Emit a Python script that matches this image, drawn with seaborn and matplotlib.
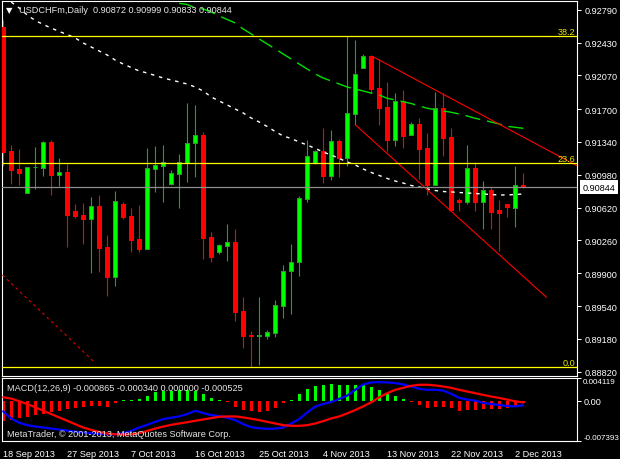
import numpy as np
import pandas as pd
import matplotlib
matplotlib.use("Agg")
import matplotlib.pyplot as plt
import seaborn as sns
from matplotlib import font_manager
from matplotlib.transforms import blended_transform_factory

# USDCHFm daily candles, 18 Sep 2013 .. 3 Dec 2013 (broker feed with Sunday bars)
opens = [0.92597, 0.91240, 0.91043, 0.90783, 0.91062, 0.91057, 0.91339, 0.90980, 0.91010, 0.90582,
         0.90538, 0.90498, 0.90637, 0.90188, 0.89862, 0.90659, 0.90528, 0.90275, 0.90169, 0.91046,
         0.91079, 0.90878, 0.90991, 0.91112, 0.91331, 0.91416, 0.90297, 0.90136, 0.90202, 0.90242,
         0.89486, 0.89222, 0.89215, 0.89208, 0.89248, 0.89544, 0.89921, 0.90020, 0.90717, 0.91105,
         0.91237, 0.90969, 0.91350, 0.91167, 0.91649, 0.92154, 0.92282, 0.91931, 0.91723, 0.91364,
         0.91789, 0.91419, 0.91533, 0.91273, 0.90871, 0.91709, 0.91394, 0.90703, 0.90676, 0.91054,
         0.90676, 0.90813, 0.90593, 0.90659, 0.90619, 0.90872]
highs = [0.92680, 0.91306, 0.91262, 0.91065, 0.91284, 0.91350, 0.91361, 0.91164, 0.91101, 0.90659,
         0.90670, 0.90739, 0.90758, 0.90322, 0.90802, 0.90684, 0.90615, 0.90648, 0.91273, 0.91295,
         0.91306, 0.91032, 0.91207, 0.91767, 0.91745, 0.91445, 0.90352, 0.90220, 0.90440, 0.90385,
         0.89639, 0.89266, 0.89639, 0.89277, 0.89606, 0.89990, 0.90220, 0.90750, 0.91361, 0.91255,
         0.91493, 0.91471, 0.91372, 0.92498, 0.92458, 0.92301, 0.92290, 0.92249, 0.91997, 0.91876,
         0.91909, 0.91555, 0.91602, 0.91438, 0.91887, 0.91876, 0.91493, 0.90722, 0.91306, 0.91116,
         0.90911, 0.90846, 0.90703, 0.90659, 0.91076, 0.90999]
lows = [0.91073, 0.90878, 0.90871, 0.90780, 0.90824, 0.90966, 0.90758, 0.90860, 0.90191, 0.90509,
        0.90220, 0.89906, 0.89913, 0.89653, 0.89763, 0.90498, 0.90136, 0.90136, 0.90166, 0.90794,
        0.90684, 0.90867, 0.90619, 0.90904, 0.90958, 0.90059, 0.90026, 0.90114, 0.90037, 0.89379,
        0.89083, 0.88868, 0.88893, 0.89179, 0.89204, 0.89412, 0.89453, 0.89873, 0.90684, 0.91098,
        0.90893, 0.90926, 0.90955, 0.91079, 0.91525, 0.92150, 0.91876, 0.91525, 0.91240, 0.91298,
        0.91276, 0.91416, 0.90933, 0.90761, 0.90867, 0.91189, 0.90588, 0.90586, 0.90662, 0.90586,
        0.90385, 0.90385, 0.90147, 0.90520, 0.90410, 0.90833]
closes = [0.91233, 0.91032, 0.91002, 0.91062, 0.91068, 0.91336, 0.90980, 0.91007, 0.90542, 0.90528,
          0.90498, 0.90637, 0.90177, 0.89862, 0.90689, 0.90520, 0.90268, 0.90166, 0.91054, 0.91084,
          0.91116, 0.90999, 0.91120, 0.91328, 0.91416, 0.90290, 0.90081, 0.90209, 0.90242, 0.89478,
          0.89215, 0.89215, 0.89219, 0.89255, 0.89551, 0.89921, 0.90020, 0.90722, 0.91186, 0.91237,
          0.90969, 0.91347, 0.91164, 0.91654, 0.92082, 0.92279, 0.91924, 0.91712, 0.91364, 0.91792,
          0.91408, 0.91533, 0.91262, 0.90871, 0.91709, 0.91383, 0.90593, 0.90681, 0.91054, 0.90676,
          0.90809, 0.90575, 0.90564, 0.90621, 0.90867, 0.90844]

# moving averages (white dotted starts at bar 1, green dashed at bar 22)
ma_white = [0.92874, 0.92809, 0.92732, 0.92672, 0.92628, 0.92589, 0.92551, 0.92518, 0.92480, 0.92425,
            0.92381, 0.92337, 0.92293, 0.92238, 0.92194, 0.92156, 0.92118, 0.92096, 0.92068, 0.92041,
            0.92019, 0.91997, 0.91975, 0.91942, 0.91898, 0.91833, 0.91789, 0.91745, 0.91701, 0.91657,
            0.91602, 0.91558, 0.91509, 0.91454, 0.91405, 0.91377, 0.91339, 0.91306, 0.91268, 0.91229,
            0.91196, 0.91158, 0.91120, 0.91087, 0.91043, 0.91005, 0.90972, 0.90939, 0.90911, 0.90889,
            0.90862, 0.90846, 0.90824, 0.90807, 0.90796, 0.90791, 0.90785, 0.90780, 0.90774, 0.90769,
            0.90763, 0.90758, 0.90758, 0.90763, 0.90769]
white_start = 1
ma_green = [0.92860, 0.92847, 0.92809, 0.92798, 0.92765, 0.92721, 0.92683, 0.92644, 0.92578, 0.92524,
            0.92469, 0.92414, 0.92359, 0.92304, 0.92249, 0.92194, 0.92140, 0.92085, 0.92041, 0.92008,
            0.91975, 0.91942, 0.91920, 0.91898, 0.91876, 0.91854, 0.91818, 0.91800, 0.91781, 0.91761,
            0.91734, 0.91709, 0.91693, 0.91679, 0.91665, 0.91646, 0.91624, 0.91599, 0.91580, 0.91558,
            0.91536, 0.91511, 0.91500, 0.91489]
green_start = 22

# drawn objects: (bar, price) anchor points
chan_upper_x, chan_upper_y = [46.3, 71.7], [0.92271, 0.91079]
chan_lower_x, chan_lower_y = [44.0, 67.9], [0.91529, 0.89636]
old_line_x, old_line_y = [-0.1, 11.55], [0.89880, 0.88912]
fib_levels = [0.92502, 0.91110, 0.88868]
fib_labels = ["38.2", "23.6", "0.0"]
bid = 0.90844

price_ticks = [0.92790, 0.92430, 0.92070, 0.91700, 0.91340, 0.90980,
               0.90620, 0.90260, 0.89900, 0.89540, 0.89180, 0.88820]

# MACD(12,26,9)
macd_main = [-0.00198, -0.00327, -0.00407, -0.00450, -0.00475, -0.00493, -0.00512, -0.00530, -0.00549, -0.00567,
             -0.00585, -0.00598, -0.00610, -0.00616, -0.00616, -0.00598, -0.00555, -0.00493, -0.00444, -0.00389,
             -0.00339, -0.00315, -0.00290, -0.00247, -0.00186, -0.00229, -0.00266, -0.00284, -0.00315, -0.00358,
             -0.00432, -0.00487, -0.00506, -0.00518, -0.00512, -0.00493, -0.00419, -0.00339, -0.00216, -0.00112,
             -0.00063, -0.00026, 0.00030, 0.00091, 0.00196, 0.00294, 0.00331, 0.00337, 0.00331, 0.00319,
             0.00294, 0.00257, 0.00214, 0.00196, 0.00196, 0.00183, 0.00122, 0.00048, 0.00017, -0.00001,
             -0.00044, -0.00063, -0.00081, -0.00100, -0.00106, -0.000865]
macd_signal = [0.00060, 0.00036, -0.00014, -0.00063, -0.00124, -0.00186, -0.00247, -0.00309, -0.00370, -0.00432,
               -0.00493, -0.00536, -0.00573, -0.00604, -0.00616, -0.00622, -0.00616, -0.00598, -0.00555, -0.00512,
               -0.00475, -0.00444, -0.00419, -0.00395, -0.00370, -0.00346, -0.00321, -0.00296, -0.00290, -0.00290,
               -0.00309, -0.00333, -0.00358, -0.00389, -0.00419, -0.00450, -0.00462, -0.00462, -0.00450, -0.00419,
               -0.00376, -0.00327, -0.00290, -0.00235, -0.00173, -0.00106, -0.00032, 0.00060, 0.00134, 0.00196,
               0.00232, 0.00269, 0.00288, 0.00288, 0.00276, 0.00257, 0.00232, 0.00196, 0.00165, 0.00134,
               0.00103, 0.00073, 0.00048, 0.00017, -0.00014, -0.000340]
macd_hist = [-0.00370, -0.00352, -0.00327, -0.00296, -0.00266, -0.00241, -0.00216, -0.00185, -0.00161, -0.00143,
             -0.00124, -0.00106, -0.00093, -0.00112, -0.00050, 0.00017, 0.00017, 0.00020, 0.00085, 0.00153,
             0.00171, 0.00183, 0.00196, 0.00196, 0.00171, 0.00122, 0.00042, 0.00017, -0.00020, -0.00124,
             -0.00173, -0.00198, -0.00204, -0.00186, -0.00137, -0.00044, 0.00017, 0.00122, 0.00214, 0.00263,
             0.00288, 0.00306, 0.00288, 0.00276, 0.00288, 0.00288, 0.00245, 0.00196, 0.00122, 0.00079,
             0.00036, -0.00020, -0.00075, -0.00130, -0.00124, -0.00124, -0.00137, -0.00186, -0.00167, -0.00167,
             -0.00161, -0.00161, -0.00149, -0.00143, -0.00112, -0.000525]
macd_range = [-0.007393, 0.004119]

W, H = 620, 460
sns.set_style("dark", rc={"axes.facecolor": "black", "figure.facecolor": "black",
                          "axes.edgecolor": "white", "text.color": "white",
                          "xtick.color": "white", "ytick.color": "white"})

# MT4 uses a narrow 8px UI font; pick a narrow family if present, else shrink Liberation Sans
installed = {f.name for f in font_manager.fontManager.ttflist}
if "Liberation Sans Narrow" in installed:
    FONT, FS = "Liberation Sans Narrow", 8
else:
    FONT, FS = "Liberation Sans", 6.6
plt.rcParams["font.family"] = [FONT, "DejaVu Sans"]
plt.rcParams["font.size"] = FS

fig = plt.figure(figsize=(W / 100, H / 100), dpi=100)
ax = fig.add_axes([2 / W, 1 - 377 / H, 575 / W, 375 / H])
axm = fig.add_axes([2 / W, 1 - 442 / H, 575 / W, 63 / H])

df = pd.DataFrame({"open": opens, "high": highs, "low": lows, "close": closes})
df["bar"] = np.arange(len(df))
bull = df["close"] >= df["open"]
wick_col = np.where(bull, "#2f9a2f", "#ff0000")
body_col = np.where(bull, "#00ff00", "#ff0000")

# candles
ax.vlines(df["bar"], df["low"], df["high"], colors=wick_col, lw=0.8, zorder=2)
body_lo = df[["open", "close"]].min(axis=1)
body_h = (df["close"] - df["open"]).abs()
ax.bar(df["bar"], body_h, bottom=body_lo, width=0.55, color=body_col,
       edgecolor=wick_col, linewidth=0.75, zorder=3)

# indicators
sns.lineplot(x=df["bar"][white_start:], y=ma_white, ax=ax, color="white", lw=1,
             linestyle=(0, (2.5, 3.5)), zorder=4)
sns.lineplot(x=df["bar"][green_start:], y=ma_green, ax=ax, color="#00e000", lw=1,
             linestyle=(0, (11, 5)), zorder=4)

# objects
ax.plot(chan_upper_x, chan_upper_y, color="#ff0000", lw=0.8, zorder=4)
ax.plot(chan_lower_x, chan_lower_y, color="#ff0000", lw=0.8, zorder=4)
ax.plot(old_line_x, old_line_y, color="#e00000", lw=0.8, linestyle=(0, (2.5, 3)), zorder=4)
for lvl, lab in zip(fib_levels, fib_labels):
    ax.axhline(lvl, color="#ffff00", lw=0.9, zorder=5)
    ax.text(71.5, lvl, lab, ha="right", va="bottom", color="#e8e800", fontsize=FS, zorder=6)
ax.axhline(bid, color="#8c8c8c", lw=0.9, zorder=5)

ax.set_xlim(-0.15, 71.72)
ax.set_ylim(0.887727, 0.928854)
ax.yaxis.tick_right()
ax.set_yticks(price_ticks)
ax.set_yticklabels([f"{p:.5f}" for p in price_ticks])
ax.tick_params(axis="y", colors="white", length=3, width=0.75, pad=2.5, labelsize=FS)
ax.tick_params(axis="x", bottom=False, labelbottom=False)
ax.set_xlabel("")
ax.set_ylabel("")
ax.grid(False)

tr = blended_transform_factory(ax.transAxes, ax.transData)
ax.text(1.0104, bid, f"{bid:.5f}", transform=tr, ha="left", va="center", color="black",
        fontsize=FS, clip_on=False,
        bbox=dict(boxstyle="square,pad=0.3", fc="white", ec="none"))

# MACD panel
hist_col = ["#00ff00" if v > 0 else "#ff0000" for v in macd_hist]
axm.bar(df["bar"], macd_hist, width=0.38, color=hist_col, linewidth=0, zorder=2)
sns.lineplot(x=df["bar"], y=macd_main, ax=axm, color="#0000ff", lw=1.6, zorder=3)
sns.lineplot(x=df["bar"], y=macd_signal, ax=axm, color="#ff0000", lw=1.6, zorder=3)
axm.set_xlim(-0.15, 71.72)
axm.set_ylim(*macd_range)
axm.yaxis.tick_right()
axm.set_yticks([macd_range[1], 0.0, macd_range[0]])
ylabs = axm.set_yticklabels([f"{macd_range[1]:.6f}", "0.00", f"{macd_range[0]:.6f}"])
axm.tick_params(axis="y", colors="white", length=3, width=0.75, pad=1.5, labelsize=FS)
# the range labels are long: keep them inside the window
ylabs[0].set_va("top")
ylabs[2].set_va("bottom")
for lab in (ylabs[0], ylabs[2]):
    lab.set_fontsize(FS * 0.88)

dates = pd.bdate_range("2013-09-18", periods=len(df), freq="C",
                       weekmask="Sun Mon Tue Wed Thu Fri")
tick_bars = df["bar"][::8]
axm.set_xticks(tick_bars)
axm.set_xticklabels([f"{d.day} {d.strftime('%b %Y')}" for d in dates[::8]], ha="left")
axm.tick_params(axis="x", colors="white", length=3, width=0.75, pad=2.5, labelsize=FS)
axm.set_xlabel("")
axm.set_ylabel("")
axm.grid(False)

for a in (ax, axm):
    for s in a.spines.values():
        s.set_color("white")
        s.set_linewidth(0.8)
        s.set_visible(True)

# header texts
fig.text(9 / W, 1 - 10.5 / H, "\u25bc", family="DejaVu Sans", fontsize=6,
         color="white", ha="center", va="center")
fig.text(19 / W, 1 - 10.5 / H, "USDCHFm,Daily  0.90872 0.90999 0.90833 0.90844",
         color="#e6e6e6", fontsize=FS, ha="left", va="center")
fig.text(7 / W, 1 - 389 / H, "MACD(12,26,9) -0.000865 -0.000340 0.000000 -0.000525",
         color="#e6e6e6", fontsize=FS, ha="left", va="center")
fig.text(7 / W, 1 - 435 / H, "MetaTrader, \u00a9 2001-2013, MetaQuotes Software Corp.",
         color="#e6e6e6", fontsize=FS, ha="left", va="center")

fig.savefig("out.png", dpi=100, facecolor="black")
